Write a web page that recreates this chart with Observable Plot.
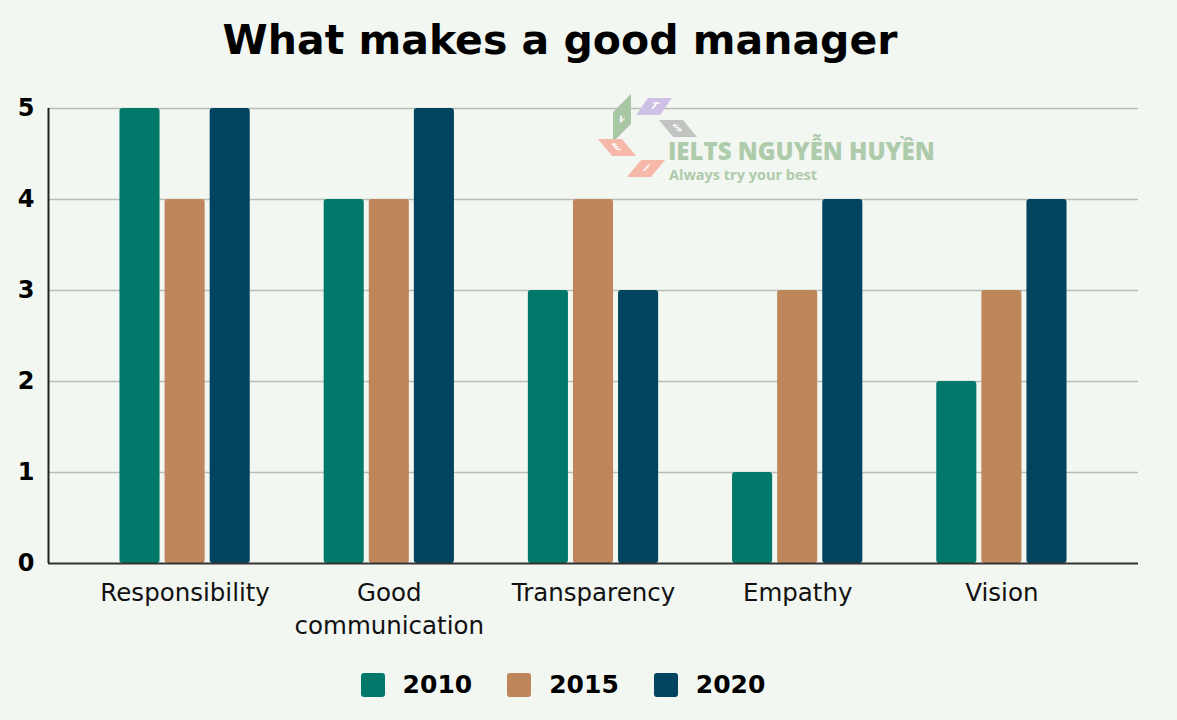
<!DOCTYPE html>
<html>
<head>
<meta charset="utf-8">
<script src="https://cdn.jsdelivr.net/npm/d3@7"></script>
<script src="https://cdn.jsdelivr.net/npm/@observablehq/plot@0.6"></script>
<style>
  html, body { margin: 0; padding: 0; background: #f3f7f2; }
  body { width: 1177px; height: 720px; position: relative; overflow: hidden; font-family: "DejaVu Sans", Verdana, sans-serif; }
  #title { position: absolute; left: 0; width: 1120px; top: 16px; text-align: center; font-weight: bold; font-size: 41px; color: #000; }
  .layer { position: absolute; left: 0; top: 0; }
  #legend { position: absolute; left: 3px; width: 1120px; top: 670px; display: flex; justify-content: center; gap: 35px; font-weight: bold; font-size: 25px; }
  #legend .item { display: flex; align-items: center; gap: 18px; }
  #legend .sw { width: 24px; height: 24px; border-radius: 3px; }
  #wm { position: absolute; left: 598px; top: 95px; width: 360px; height: 95px; pointer-events: none; }
  #wm .t1 { position: absolute; left: 70px; top: 45px; font-family: "Open Sans", sans-serif; font-weight: 800; font-size: 24px; line-height: 22px; color: #aecbab; white-space: nowrap; }
  #wm .t2 { position: absolute; left: 71px; top: 73px; font-family: "Open Sans", sans-serif; font-weight: 700; font-size: 14.5px; line-height: 14px; color: #aecbab; white-space: nowrap; }
  #wm .d { position: absolute; width: 24px; height: 17px; color: #fff; font-size: 9px; font-weight: bold; text-align: center; line-height: 17px; }
</style>
</head>
<body>
<div id="title">What makes a good manager</div>
<div id="gridLayer" class="layer"></div>
<div id="wm">
  <div class="d" style="left:44px;top:3px;background:#cfc0e6;transform:skewX(-35deg);">T</div>
  <div class="d" style="left:15px;top:8px;width:18px;height:30px;line-height:30px;background:#a9c6a5;transform:skewY(-45deg);">L</div>
  <div class="d" style="left:68px;top:25px;background:#c2c4c2;transform:skewX(40deg);">S</div>
  <div class="d" style="left:7px;top:44px;background:#f6b9a9;transform:skewX(40deg);">E</div>
  <div class="d" style="left:36px;top:65px;background:#f6b9a9;transform:skewX(-40deg);">I</div>
  <div class="t1">IELTS NGUYỄN HUYỀN</div>
  <div class="t2">Always try your best</div>
</div>
<div id="barLayer" class="layer"></div>
<div id="axisLayer" class="layer"></div>
<div id="legend"></div>
<script>
const categories = ["Responsibility", "Good communication", "Transparency", "Empathy", "Vision"];
const categoryLabels = ["Responsibility", "Good\ncommunication", "Transparency", "Empathy", "Vision"];
const years = ["2010", "2015", "2020"];
const values2010 = [5, 4, 3, 1, 2];
const values2015 = [4, 4, 4, 3, 3];
const values2020 = [5, 5, 3, 4, 4];
const colors = ["#00796b", "#c0865b", "#00445f"];
const yTicks = [0, 1, 2, 3, 4, 5];

const series = [values2010, values2015, values2020];
const data = [];
categories.forEach((c, i) => {
  years.forEach((y, j) => data.push({category: c, year: y, value: series[j][i]}));
});

const common = {
  width: 1177,
  height: 650,
  marginTop: 108,
  marginBottom: 87,
  marginLeft: 48,
  marginRight: 39,
  style: {background: "transparent", fontFamily: "DejaVu Sans, Verdana, sans-serif", overflow: "visible"},
  y: {domain: [0, 5], ticks: yTicks, label: null}
};

// Background layer: grid lines and y tick labels
const gridPlot = Plot.plot({
  ...common,
  x: {domain: [0, 1], axis: null},
  marks: [
    Plot.ruleY(yTicks.filter(d => d > 0), {stroke: "#b9bdb8", strokeWidth: 1.6}),
    Plot.axisY({ticks: yTicks, tickFormat: d3.format("d"), tickSize: 0, tickPadding: 14, fontSize: 24, fontWeight: "bold", fill: "#000", label: null})
  ]
});
document.getElementById("gridLayer").appendChild(gridPlot);

// Middle layer: grouped bars with fx facets
const barPlot = Plot.plot({
  ...common,
  fx: {domain: categories, paddingInner: 0.362, paddingOuter: 0.35, round: false, label: null},
  x: {domain: years, paddingInner: 0.111, paddingOuter: 0, round: false, axis: null},
  y: {...common.y, axis: null},
  color: {domain: years, range: colors},
  marks: [
    Plot.barY(data, {fx: "category", x: "year", y: "value", fill: "year", rx: 3}),
    Plot.axisFx({anchor: "bottom", tickSize: 0, tickPadding: 15, fontSize: 24.5, lineHeight: 1.32, fill: "#111", label: null, tickFormat: d => categoryLabels[categories.indexOf(d)]})
  ]
});
document.getElementById("barLayer").appendChild(barPlot);

// Top layer: baseline and y axis line
const axisPlot = Plot.plot({
  ...common,
  x: {domain: [0, 1], axis: null},
  y: {...common.y, axis: null},
  marks: [
    Plot.ruleY([0], {stroke: "#333", strokeWidth: 2}),
    Plot.ruleX([0], {y1: 0, y2: 5, stroke: "#222", strokeWidth: 2})
  ]
});
document.getElementById("axisLayer").appendChild(axisPlot);

const legendEl = document.getElementById("legend");
years.forEach((y, i) => {
  const item = document.createElement("div");
  item.className = "item";
  item.innerHTML = `<div class="sw" style="background:${colors[i]}"></div><span>${y}</span>`;
  legendEl.appendChild(item);
});
</script>
</body>
</html>
